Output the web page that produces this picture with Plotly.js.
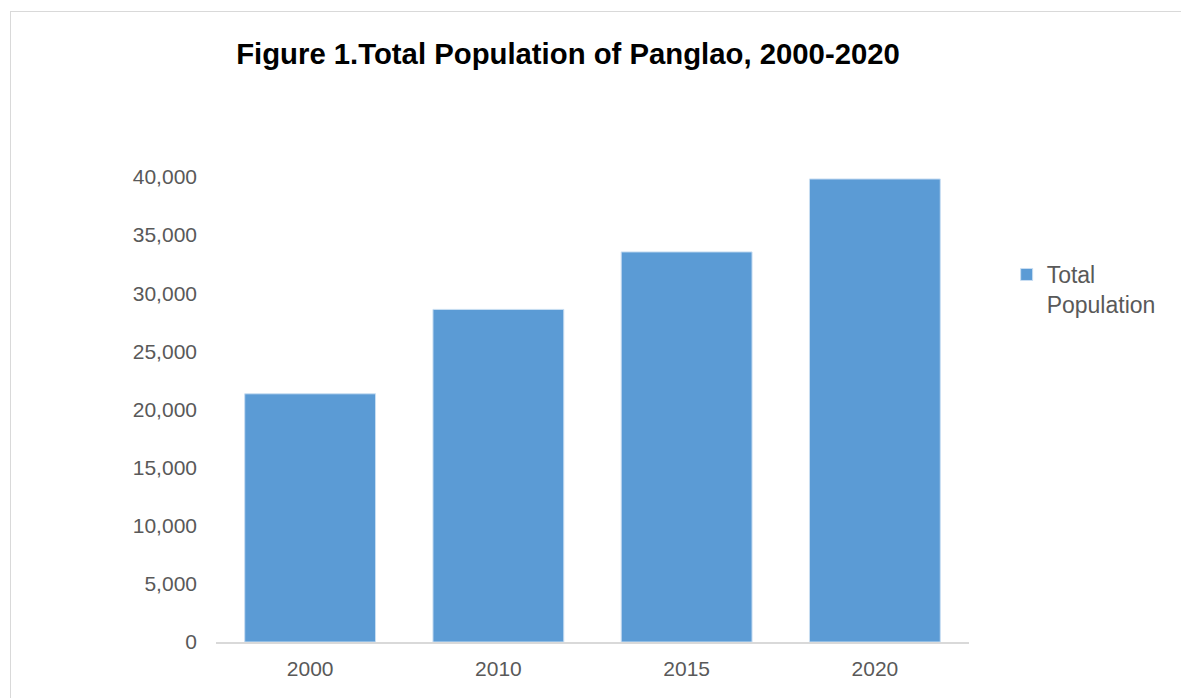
<!DOCTYPE html>
<html>
<head>
<meta charset="utf-8">
<script src="https://cdn.plot.ly/plotly-3.0.1.min.js"></script>
<style>
  html, body { margin: 0; padding: 0; background: #ffffff; overflow: hidden; }
  #chart { width: 1181px; height: 698px; position: absolute; left: 0; top: 0; }
  #frame { position: absolute; left: 10px; top: 11px; width: 1300px; height: 800px;
           border: 1.5px solid #d9d9d9; pointer-events: none; box-sizing: border-box; }
</style>
</head>
<body>
<div id="chart"></div>
<div id="frame"></div>
<script>
const years = ["2000", "2010", "2015", "2020"];
const population = [21350, 28610, 33555, 39830];
const seriesName = "Total<br>Population";
const yTickVals = [0, 5000, 10000, 15000, 20000, 25000, 30000, 35000, 40000];
const yTickText = ["0", "5,000", "10,000", "15,000", "20,000", "25,000", "30,000", "35,000", "40,000"];

const FONT = "Liberation Sans, Arial, sans-serif";

const trace = {
  type: "bar",
  x: years,
  y: population,
  name: seriesName,
  showlegend: true,
  marker: { color: "#5b9bd5", line: { color: "#c9def2", width: 1 } },
  hoverinfo: "x+y"
};

const layout = {
  width: 1181,
  height: 698,
  paper_bgcolor: "#ffffff",
  plot_bgcolor: "#ffffff",
  margin: { l: 216, r: 212, t: 177, b: 56 },
  bargap: 0.305,
  title: {
    text: "<b>Figure 1.Total Population of Panglao, 2000-2020</b>",
    font: { family: FONT, size: 29.3, color: "#000000" },
    x: 568 / 1181,
    xanchor: "center",
    y: 1 - 54 / 698,
    yanchor: "middle"
  },
  xaxis: {
    type: "category",
    showline: true,
    linecolor: "#d9d9d9",
    linewidth: 1.5,
    showgrid: false,
    zeroline: false,
    ticks: "",
    tickfont: { family: FONT, size: 21, color: "#595959" },
    ticklabelstandoff: 7
  },
  yaxis: {
    range: [0, 40000],
    tickvals: yTickVals,
    ticktext: yTickText,
    showline: false,
    showgrid: false,
    zeroline: false,
    ticks: "",
    tickfont: { family: FONT, size: 21, color: "#595959" },
    ticklabelstandoff: 18
  },
  legend: {
    x: 1.05,
    xanchor: "left",
    y: 0.758,
    yanchor: "middle",
    valign: "top",
    font: { family: FONT, size: 23, color: "#595959" },
    bgcolor: "rgba(0,0,0,0)",
    itemwidth: 30
  },
  showlegend: true
};

Plotly.newPlot("chart", [trace], layout, { displayModeBar: false, staticPlot: true });
</script>
</body>
</html>
